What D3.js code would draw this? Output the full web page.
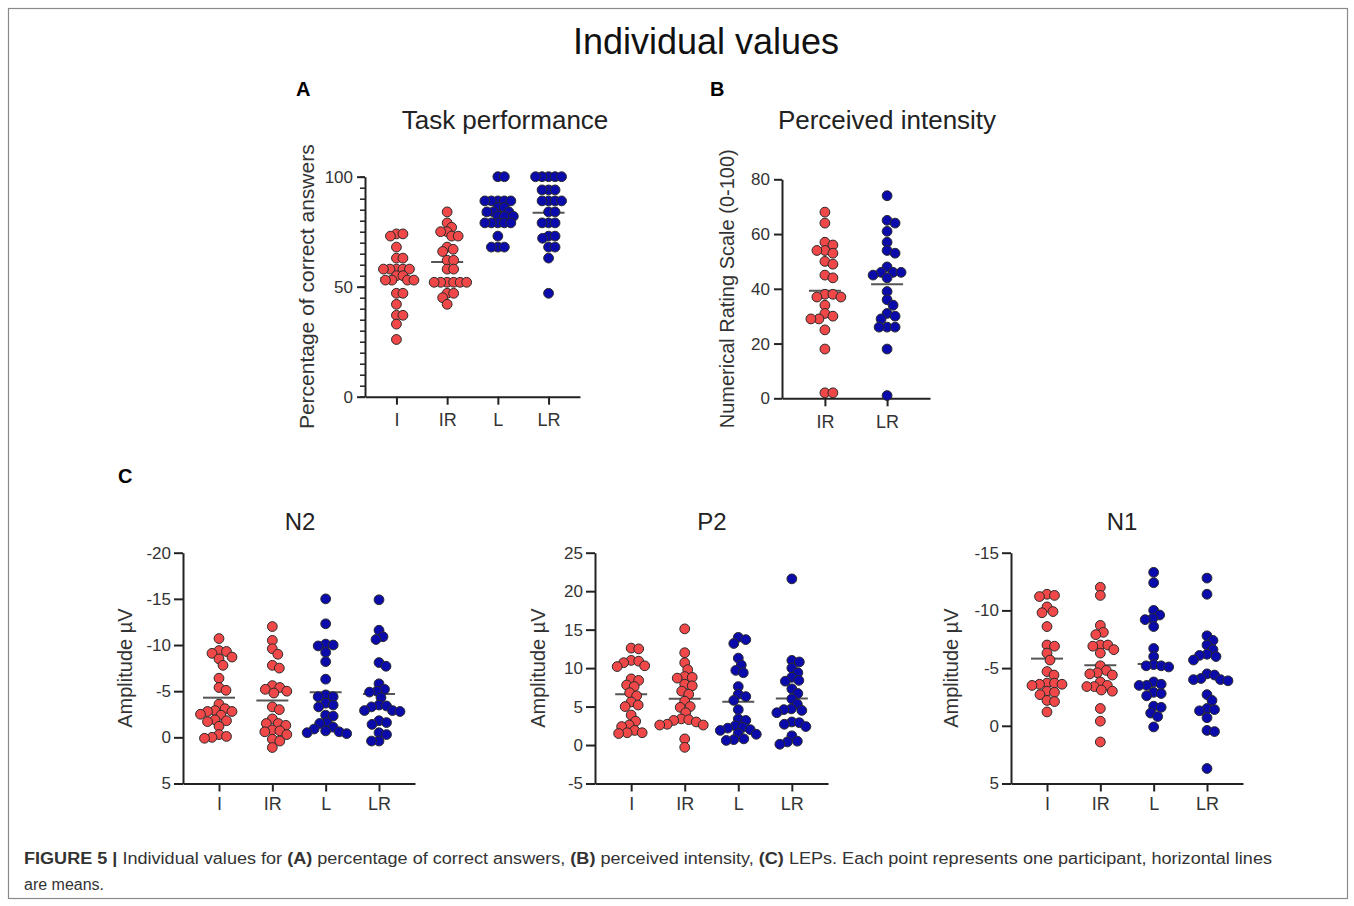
<html>
  <head>
    <script src="https://d3js.org/d3.v7.min.js"></script>
    <style>
      body { margin: 0; background: #fff; }
      text { font-family: "Liberation Sans", Arial, sans-serif; }
    </style>
  </head>
  <body>
    <svg id="fig" width="1354" height="906"></svg>
    <script>
      // categories
      const catsAll = ["I", "IR", "L", "LR"];
      const catsB = ["IR", "LR"];

      // A: task performance (% correct)
      const taskI = [74, 74, 73, 68, 63, 63, 58, 58, 58, 58, 58, 55, 55, 53, 53, 53, 53, 47, 47, 42, 37, 37, 33, 26];
      const taskIR = [84, 79, 77, 75, 75, 73, 73, 68, 67, 66, 62, 62, 58, 58, 52, 52, 52, 52, 52, 52, 47, 47, 45, 42];
      const taskL = [100, 100, 89, 89, 89, 89, 89, 86, 86, 84, 84, 84, 82, 82, 82, 79, 79, 79, 79, 79, 73, 68, 68, 68];
      const taskLR = [100, 100, 100, 100, 100, 94, 94, 94, 89, 89, 89, 89, 84, 84, 79, 79, 79, 73, 73, 72, 68, 68, 63, 47];

      // B: perceived intensity (NRS)
      const nrsIR = [68, 64, 57, 56, 54, 54, 53, 50, 49, 45, 44, 38, 38, 37, 37, 34, 31, 30, 29, 29, 25, 18, 2, 2];
      const nrsLR = [74, 65, 64, 61, 57, 54, 53, 48, 46, 46, 46, 45, 44, 39, 36, 34, 31, 30, 29, 26, 26, 26, 18, 1];

      // C: LEP amplitudes (uV)
      const n2I = [-10.7, -9.4, -9.3, -9.1, -8.7, -8.5, -7.8, -6.4, -5.4, -5.1, -3.6, -3.1, -2.9, -2.8, -2.8, -2.4, -2.5, -1.8, -1.7, -1.9, -1.2, -0.3, -0.1, 0, 0.1];
      const n2IR = [-12, -10.5, -9.6, -9, -7.8, -7.5, -5.6, -5.4, -5.2, -5.0, -4.8, -3.3, -3.0, -2.0, -1.5, -1.5, -1.3, -0.8, -0.7, -0.6, -0.3, 0.2, 0.4, 1.1];
      const n2L = [-15, -12.3, -10.1, -10.0, -9.9, -9.2, -8.2, -6.3, -4.6, -4.4, -4.4, -3.7, -3.5, -3.3, -2.4, -2.3, -1.6, -1.5, -1.1, -0.9, -0.7, -0.6, -0.5, -0.4];
      const n2LR = [-14.9, -11.6, -10.9, -10.6, -8.1, -7.7, -5.8, -5.2, -5.0, -4.9, -4.3, -3.5, -3.4, -3.3, -2.9, -2.8, -2.9, -1.8, -1.6, -1.4, -0.5, -0.3, 0.4, 0.4];

      const p2I = [12.6, 12.5, 11.0, 10.9, 10.7, 10.3, 10.2, 8.6, 8.4, 7.8, 7.6, 6.8, 6.4, 5.6, 5.2, 5.0, 3.9, 3.1, 2.6, 2.4, 1.9, 1.6, 1.5, 1.6];
      const p2IR = [15.1, 12.0, 10.7, 9.8, 8.9, 8.8, 8.7, 7.9, 7.7, 7.0, 6.6, 5.7, 5.0, 4.9, 4.2, 3.4, 3.3, 3.2, 3.0, 2.7, 2.6, 2.6, 0.8, -0.3];
      const p2L = [14.0, 13.7, 13.2, 11.3, 10.4, 9.7, 9.4, 7.6, 6.6, 6.3, 5.8, 4.6, 3.4, 3.2, 2.5, 2.3, 2.2, 2.0, 1.9, 1.5, 1.4, 0.8, 0.7, 0.6];
      const p2LR = [21.6, 11.0, 10.8, 10.0, 9.4, 8.8, 8.4, 8.3, 7.3, 6.7, 6.0, 5.3, 4.7, 4.6, 4.5, 4.2, 3.0, 2.9, 2.7, 2.4, 1.2, 0.5, 0.4, 0.1];

      const n1I = [-11.4, -11.3, -11.2, -10.3, -9.9, -9.8, -8.6, -7.0, -6.9, -6.3, -5.7, -4.7, -4.4, -3.7, -3.7, -3.6, -3.6, -3.5, -3.0, -2.9, -2.7, -2.2, -2.1, -1.2];
      const n1IR = [-12.0, -11.3, -8.7, -8.1, -7.9, -7.0, -7.0, -6.9, -6.6, -6.3, -5.2, -4.8, -4.6, -4.5, -4.4, -3.8, -3.5, -3.4, -3.4, -3.1, -3.0, -1.5, -0.4, 1.4];
      const n1L = [-13.3, -12.4, -10.0, -9.6, -9.3, -9.2, -8.6, -6.7, -6.0, -5.3, -5.2, -5.2, -5.1, -3.8, -3.6, -3.5, -3.5, -2.9, -2.8, -2.6, -1.7, -1.6, -1.1, -0.8, 0.1];
      const n1LR = [-12.8, -11.4, -7.8, -7.4, -7.0, -6.6, -6.2, -6.1, -6.0, -5.7, -4.5, -4.4, -4.1, -4.0, -4.0, -3.9, -2.7, -2.2, -1.5, -1.4, -1.3, -0.7, 0.5, 0.4, 3.7];

      const RED = "#f04848";
      const BLUE = "#0b0bab";
      const colorOf = { I: RED, IR: RED, L: BLUE, LR: BLUE };

      const svg = d3.select("#fig");

      // frame
      svg.append("rect")
        .attr("x", 8.5).attr("y", 8.5)
        .attr("width", 1339).attr("height", 890)
        .attr("fill", "none").attr("stroke", "#8a8a8a").attr("stroke-width", 1.2);

      svg.append("text")
        .attr("x", 706).attr("y", 54)
        .attr("text-anchor", "middle")
        .attr("font-size", 36).attr("fill", "#111")
        .text("Individual values");

      const letters = [["A", 296, 96], ["B", 710, 96], ["C", 118, 483]];
      svg.selectAll(".letter").data(letters).enter().append("text")
        .attr("x", d => d[1]).attr("y", d => d[2])
        .attr("font-size", 20).attr("font-weight", "bold").attr("fill", "#000")
        .text(d => d[0]);

      // simple swarm: place each point nearest to the centre without overlapping
      function swarm(values, y, dist) {
        const placed = [];
        const pts = values.map(v => ({ v: v, y: y(v) })).sort((a, b) => a.y - b.y);
        pts.forEach(p => {
          for (let k = 0; k < 200; k++) {
            const off = (k % 2 ? 1 : -1) * Math.ceil(k / 2) * 0.5;
            const ok = placed.every(q => (q.dx - off) ** 2 + (q.y - p.y) ** 2 >= dist * dist);
            if (ok) { p.dx = off; break; }
          }
          placed.push(p);
        });
        return placed;
      }

      function panel(opt) {
        const g = svg.append("g");
        const y = d3.scaleLinear().domain(opt.yDomain).range([opt.bottom, opt.top]);
        const x = d3.scalePoint().domain(opt.cats).range([opt.left, opt.right]).padding(opt.pad);

        if (opt.minor) {
          g.append("g")
            .attr("transform", `translate(${opt.left},0)`)
            .call(d3.axisLeft(y).tickValues(opt.minor).tickSize(5).tickFormat("").tickSizeOuter(0))
            .call(a => a.select(".domain").remove())
            .call(a => a.selectAll("line").attr("stroke", "#222").attr("stroke-width", 1.5));
        }
        const ya = g.append("g")
          .attr("transform", `translate(${opt.left},0)`)
          .call(d3.axisLeft(y).tickValues(opt.ticks).tickSize(opt.tick).tickPadding(opt.tpad)
            .tickSizeOuter(0).tickFormat(d => String(d)));
        const xa = g.append("g")
          .attr("transform", `translate(0,${opt.bottom})`)
          .call(d3.axisBottom(x).tickSize(8).tickPadding(opt.xpad).tickSizeOuter(0));
        [ya, xa].forEach(a => {
          a.select(".domain").attr("stroke", "#222").attr("stroke-width", 2);
          a.selectAll(".tick line").attr("stroke", "#222").attr("stroke-width", 2);
          a.selectAll(".tick text").attr("fill", "#333")
            .style("font-family", '"Liberation Sans", Arial, sans-serif');
        });
        ya.selectAll(".tick text").attr("font-size", 17);
        xa.selectAll(".tick text").attr("font-size", 18);

        // panel title
        g.append("text")
          .attr("x", opt.titleX).attr("y", opt.titleY)
          .attr("text-anchor", "middle")
          .attr("font-size", opt.titleSize).attr("fill", "#222")
          .text(opt.title);

        // y label
        g.append("text")
          .attr("transform", `translate(${opt.left - opt.labOff},${(opt.top + opt.bottom) / 2}) rotate(-90)`)
          .attr("text-anchor", "middle")
          .attr("dy", "0.35em")
          .attr("font-size", opt.labSize).attr("fill", "#333")
          .text(opt.ylabel);

        opt.cats.forEach((c, i) => {
          const vals = opt.series[i];
          const cx = x(c);
          const m = d3.mean(vals);
          g.append("line")
            .attr("x1", cx - 16).attr("x2", cx + 16)
            .attr("y1", y(m)).attr("y2", y(m))
            .attr("stroke", "#555").attr("stroke-width", 2);
          g.append("g").selectAll("circle")
            .data(swarm(vals, y, opt.dist))
            .enter().append("circle")
            .attr("cx", d => cx + d.dx)
            .attr("cy", d => d.y)
            .attr("r", 4.9)
            .attr("fill", colorOf[c])
            .attr("stroke", "#2a2a2a")
            .attr("stroke-width", 1);
        });
      }

      panel({
        title: "Task performance", titleX: 505, titleY: 129, titleSize: 26,
        ylabel: "Percentage of correct answers", labOff: 58, labSize: 21,
        cats: catsAll, series: [taskI, taskIR, taskL, taskLR],
        yDomain: [0, 100], ticks: [0, 50, 100], minor: d3.range(0, 101, 5),
        left: 365, right: 580, pad: 0.62, top: 176.7, bottom: 396.7,
        tick: 8, tpad: 4, xpad: 9, dist: 6.2
      });

      panel({
        title: "Perceived intensity", titleX: 887, titleY: 129, titleSize: 26,
        ylabel: "Numerical Rating Scale (0-100)", labOff: 55, labSize: 20,
        cats: catsB, series: [nrsIR, nrsLR],
        yDomain: [0, 80], ticks: [0, 20, 40, 60, 80],
        left: 782, right: 930, pad: 0.69, top: 179.3, bottom: 398.3,
        tick: 8, tpad: 4, xpad: 9, dist: 8
      });

      panel({
        title: "N2", titleX: 300, titleY: 530, titleSize: 24,
        ylabel: "Amplitude \u00b5V", labOff: 58, labSize: 20,
        cats: catsAll, series: [n2I, n2IR, n2L, n2LR],
        yDomain: [5, -20], ticks: [-20, -15, -10, -5, 0, 5],
        left: 183, right: 415, pad: 0.675, top: 552.7, bottom: 783.5,
        tick: 9, tpad: 3, xpad: 6, dist: 7.5
      });

      panel({
        title: "P2", titleX: 712, titleY: 530, titleSize: 24,
        ylabel: "Amplitude \u00b5V", labOff: 57, labSize: 20,
        cats: catsAll, series: [p2I, p2IR, p2L, p2LR],
        yDomain: [-5, 25], ticks: [-5, 0, 5, 10, 15, 20, 25],
        left: 595, right: 828, pad: 0.675, top: 552.7, bottom: 783.5,
        tick: 9, tpad: 3, xpad: 6, dist: 7.5
      });

      panel({
        title: "N1", titleX: 1122, titleY: 530, titleSize: 24,
        ylabel: "Amplitude \u00b5V", labOff: 60, labSize: 20,
        cats: catsAll, series: [n1I, n1IR, n1L, n1LR],
        yDomain: [5, -15], ticks: [-15, -10, -5, 0, 5],
        left: 1011, right: 1243, pad: 0.675, top: 552.7, bottom: 783.5,
        tick: 9, tpad: 3, xpad: 6, dist: 7.5
      });

      // caption
      const cap = svg.append("text")
        .attr("x", 24).attr("y", 864)
        .attr("font-size", 16).attr("fill", "#333")
        .attr("textLength", 1248).attr("lengthAdjust", "spacingAndGlyphs");
      const parts = [
        ["FIGURE 5 |", true], [" Individual values for ", false], ["(A)", true],
        [" percentage of correct answers, ", false], ["(B)", true],
        [" perceived intensity, ", false], ["(C)", true],
        [" LEPs. Each point represents one participant, horizontal lines", false]
      ];
      parts.forEach(p => {
        cap.append("tspan").attr("font-weight", p[1] ? "bold" : "normal").text(p[0]);
      });
      svg.append("text")
        .attr("x", 24).attr("y", 890)
        .attr("font-size", 16).attr("fill", "#333")
        .text("are means.");
    </script>
  </body>
</html>
